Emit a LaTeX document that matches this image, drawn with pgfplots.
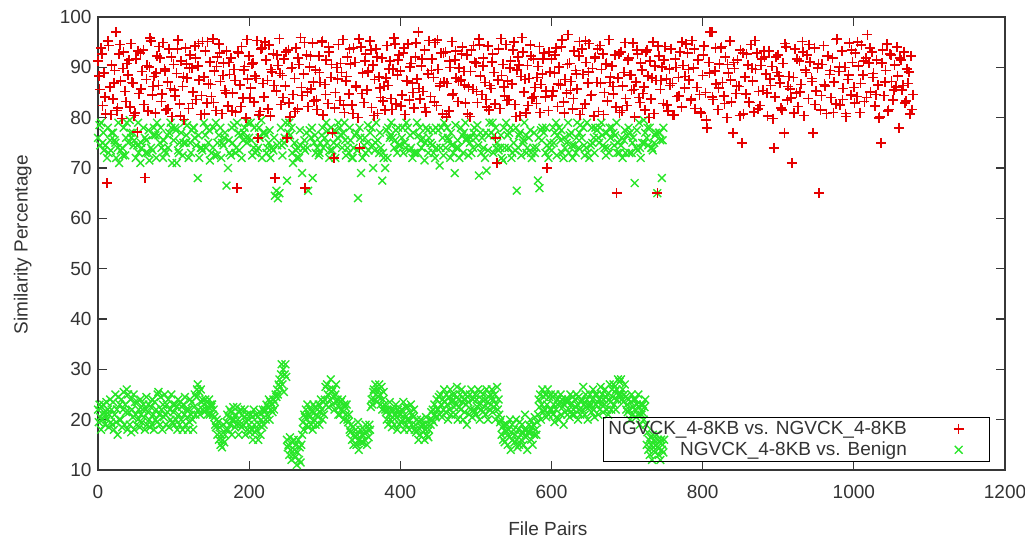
\documentclass[border=0pt]{standalone}
\usepackage{pgfplots}
\pgfplotsset{compat=1.18}
\usepackage{pgfplotstable}
\usepackage{fontspec}
\setmainfont{Liberation Sans}

\definecolor{gpred}{RGB}{230,0,0}
\definecolor{gpgreen}{RGB}{40,230,40}
\definecolor{gpframe}{RGB}{55,55,55}

% NGVCK_4-8KB vs. NGVCK_4-8KB: file pair 20r+2c is in row r, column c
\pgfplotstableread[header=false]{
91.2 85.6 93.8 82.4 88.9 80.7 67.0 94.3 86.1 90.5
83.7 89.4 97.0 81.9 92.6 87.3 79.8 93.1 85.2 90.8
88.5 82.1 94.7 86.9 80.4 91.6 77.2 84.8 92.9 89.2
93.4 68.1 87.6 81.3 90.1 95.2 84.5 88.2 80.9 92.3
86.4 91.9 83.2 94.9 89.7 81.5 87.1 93.6 85.8 80.2
90.6 84.3 88.8 95.4 82.7 91.3 86.2 79.6 93.9 87.9
81.8 92.4 89.9 85.1 94.2 83.6 90.3 87.5 80.6 95.1
88.1 93.2 82.9 86.7 91.1 84.2 95.6 89.3 81.4 92.1
94.6 87.2 80.8 90.9 85.4 93.3 82.3 88.6 91.8 84.9
89.6 81.1 66.0 92.8 86.5 94.1 83.9 90.2 79.9 87.7
92.2 85.9 90.7 83.1 88.3 95.3 76.0 81.2 93.7 86.8
84.1 91.4 87.4 94.4 80.3 89.1 92.7 68.0 85.3 90.4
95.7 82.6 88.4 91.7 86.3 76.0 93.5 80.1 89.8 84.6
87.8 93.9 81.7 90.6 95.9 84.4 88.7 66.0 92.5 82.2
90.1 85.7 94.8 83.3 89.5 81.6 92.3 87.0 95.0 80.5
86.6 91.5 82.8 93.0 88.0 77.0 72.0 85.0 90.0 94.5
83.4 89.0 95.5 81.0 87.3 92.0 84.7 90.7 82.5 93.8
91.0 86.0 80.0 74.0 94.0 88.9 83.0 92.6 85.5 89.4
95.2 82.0 90.5 87.6 93.6 80.8 88.1 84.0 91.9 86.2
81.5 94.3 86.4 91.2 83.8 89.7 95.8 82.7 88.5 92.4
89.3 84.5 92.9 80.6 87.4 94.6 83.5 90.8 86.9 81.9
92.0 87.7 97.0 83.7 90.3 85.2 93.4 81.1 88.8 95.3
84.2 91.7 88.0 94.9 82.4 89.6 86.3 92.8 80.7 87.1
93.1 86.8 81.3 90.0 95.1 84.8 91.4 87.9 83.2 89.9
87.5 94.0 89.2 82.9 92.5 86.1 80.2 93.5 85.6 91.1
90.9 83.0 95.6 88.3 84.6 91.8 87.0 82.1 94.2 86.4
85.8 92.7 89.0 76.0 71.0 93.7 81.8 88.4 90.6 84.3
94.5 87.3 83.6 91.3 86.7 95.0 82.6 89.5 92.1 80.4
88.2 93.0 85.1 80.9 90.4 87.8 94.4 83.9 91.6 86.0
82.8 90.2 94.1 86.6 88.7 92.9 84.1 70.0 81.4 89.1
91.7 85.3 88.9 93.9 82.2 90.1 86.5 95.4 83.1 87.6
84.9 96.5 90.8 87.2 81.7 93.3 89.4 85.7 92.2 80.6
93.6 88.6 82.7 91.0 86.9 94.7 84.4 89.8 80.3 92.0
87.0 81.2 94.3 89.6 92.6 85.0 90.7 83.3 95.5 88.1
90.3 84.7 92.4 65.0 87.9 81.0 93.1 86.3 89.0 83.8
82.4 91.8 88.5 85.4 94.8 80.1 87.1 92.7 84.0 90.9
89.5 86.1 81.5 93.4 88.3 91.2 83.7 95.0 80.8 87.4
65.0 92.3 85.6 90.1 82.8 94.1 87.7 81.3 89.7 93.7
86.8 80.5 91.6 84.2 88.0 93.0 82.1 90.4 85.9 94.6
92.8 87.5 83.4 95.3 89.9 81.8 86.0 91.5 84.6 80.9
88.4 94.2 85.0 78.0 91.0 97.0 97.0 83.6 89.3 86.7
81.6 90.7 93.8 87.0 84.3 92.1 80.0 88.9 95.2 83.1
77.0 89.8 84.8 91.4 86.2 93.5 75.0 80.7 88.1 92.6
90.5 83.0 94.5 87.3 81.1 89.6 92.9 85.2 82.4 91.7
85.4 92.0 88.7 80.3 93.3 86.4 90.2 74.0 84.1 89.0
92.5 86.9 81.9 90.8 77.0 94.0 83.5 88.2 85.7 71.0
88.0 93.6 84.9 82.2 91.3 86.6 95.1 80.4 89.5 92.4
83.8 91.1 87.8 77.0 93.9 85.3 89.9 65.0 81.5 90.6
94.3 86.3 80.8 92.2 88.6 84.0 91.9 87.1 82.7 95.6
89.2 82.5 93.2 85.8 90.0 80.2 87.6 94.8 84.5 91.0
86.0 92.8 84.2 90.3 81.0 94.4 88.5 83.2 91.8 96.5
90.9 85.1 93.0 88.8 82.3 91.5 86.5 80.1 75.0 93.4
84.4 89.4 94.6 81.6 92.7 87.2 83.5 90.5 86.1 88.3
78.0 91.4 85.5 93.1 82.9 89.7 86.8 80.7 92.3 84.6
}\ngvckeven

% NGVCK_4-8KB vs. NGVCK_4-8KB: file pair 20r+4c+1 is in row r, column c
\pgfplotstableread[header=false]{
88.3 92.7 84.1 95.2 80.6
86.9 81.4 94.5 89.8 83.2
91.5 87.0 80.9 93.3 85.7
82.6 90.4 95.8 86.2 88.9
94.1 84.7 89.3 81.8 92.0
85.5 93.6 80.3 88.1 90.7
89.9 82.8 91.8 94.7 84.4
80.7 95.1 86.6 83.0 90.2
92.9 88.4 84.9 91.0 81.3
87.4 93.0 82.2 89.5 95.5
83.9 90.9 87.8 80.5 93.8
95.0 81.7 89.6 86.4 92.5
88.8 84.0 93.1 82.9 90.0
81.2 91.9 86.0 94.9 85.1
92.3 87.1 83.5 89.0 95.3
84.6 94.0 90.6 81.9 87.7
90.8 82.5 88.2 93.7 80.8
86.3 95.6 84.8 91.2 89.1
93.5 80.4 92.1 85.9 83.3
87.9 89.7 81.6 94.6 91.4
82.3 93.9 87.3 90.1 85.0
94.8 85.8 91.6 82.0 88.6
89.4 83.1 95.4 86.8 92.8
80.1 91.3 84.5 93.2 87.2
92.6 86.5 80.7 89.2 94.3
85.2 94.4 90.3 83.6 81.5
91.1 82.7 87.5 95.7 86.1
83.4 89.9 93.4 80.2 90.5
95.9 87.6 82.4 92.2 84.2
88.0 81.0 91.7 85.3 93.0
84.3 92.4 86.7 94.0 80.9
90.6 85.4 83.8 88.7 95.1
81.8 95.2 89.1 84.6 91.9
93.7 86.9 80.6 90.8 87.0
86.2 82.1 92.7 81.4 94.9
91.4 88.5 85.6 93.5 83.0
84.8 93.1 80.0 87.9 90.3
94.2 87.4 91.5 82.5 86.4
80.5 90.0 84.3 95.0 88.2
89.6 83.7 93.6 86.0 81.2
92.4 79.5 88.9 84.1 93.9
85.9 94.1 82.8 90.6 87.5
91.0 86.3 80.4 92.9 84.7
83.1 89.8 95.3 81.7 90.4
93.3 84.9 87.7 79.8 92.1
88.3 81.5 94.7 86.2 83.9
80.9 91.6 85.1 93.0 89.0
94.5 87.2 82.6 90.7 84.4
86.6 92.3 89.4 81.0 95.5
90.1 83.6 80.8 88.5 93.4
82.9 95.0 86.8 91.3 84.0
93.8 88.0 84.6 79.9 90.9
87.1 81.3 92.5 85.5 94.0
91.9 86.4 83.3 89.1 81.6
}\ngvckodd

% NGVCK_4-8KB vs. Benign, upper group: file pair 10r+2c in row r, column c
\pgfplotstableread[header=false]{
76 78.5 79 75 73.5
74.5 72 73 75.5 77
77 75.5 72 74 71
73.5 74 78 72.5 79
75 79.5 76 77 75.5
72 74.5 73 71 74
78 76 75.5 73 71.5
74 73.5 78 76.5 79
76.5 75 74 72 73.5
73 76.5 77 79 71
75.5 78 71 73.5 75
77 72.5 79 75 78.5
72 75 77.5 78 76
74.5 68 72 74 73.5
79 76.5 78 75 71.5
73 74 72.5 79 75
76.5 78 75 74.5 77
66.5 70 73 72.5 75
78.5 73 79 77 76.5
72 75.5 78 76 79
76 79 72.5 74 73
73.5 74 76 79.5 77
77 76.5 74 75 72
74 73.5 64.5 65.5 64
65 78 72.5 75 79
67.5 77 76.5 78 71
75 73.5 74 72 74.5
69 74 73.5 77 65.5
77.5 76 68 75 73
74 72.5 75 76.5 74
76 79 77.5 72 78
73.5 75 72 74.5 79
78 76.5 77 79 72.5
74 73 75.5 72 74
76.5 77 64 78 69
72 74.5 73 75 73.5
77 78 70 73.5 79
75.5 73 74 67.5 72
70 77.5 78 76 79
76 74 77.5 73 74.5
74.5 76 73 75 79
78 73.5 74 72 73
73 79 76.5 78 74
76 71.5 78 77.5 76
75 74.5 73 72 74
77.5 70.5 78 76 79
74 78 75.5 72 74.5
73 69 74 75.5 72
78 76.5 77 79 76
72.5 75 73 74 78
76 78.5 68.5 77 76
74 72 69.5 73.5 79
77 79 76.5 78 75
73.5 74 72 71.5 74
79 76.5 77 78 73
75 73.5 65.5 74 77
72.5 75 79 76.5 74
76 77.5 72 74 73
74 67.5 66 77.5 78
77 73 74.5 72 75
73.5 78 77 79 76.5
78 75.5 73 72 74
75 79 76.5 77 72
74.5 73 79 74 78.5
76 78 72.5 74 73
72 74.5 75 76 78
77.5 76 78 79 74.5
74 72.5 74 73 76
78 77 76.5 79 75
73 74.5 72 75.5 73
76.5 78 77 73 76
67 74 73.5 79 72
75 79.5 77 76 74.5
78 74 73.5 75 77
65 77 75.5 68 78
}\benignhigh

% NGVCK_4-8KB vs. Benign, upper group: file pair 10r+4c+3 in row r, column c
\pgfplotstableread[header=false]{
74.5 77
78 73.5
75 79
72.5 76
77 74.5
79 75
73 77.5
76.5 72
78 75.5
74 78
77.5 73
75 76.5
73 78
76.5 74
74 77.5
78 72.5
72 76
75.5 78
74 73.5
77 75
75.5 78
78 72
73 77.5
76 74.5
74.5 76
79 73
72 77.5
75.5 74
78 76.5
73 78
75 73.5
77.5 76
74 75.5
78 72
73.5 76
76 78.5
74.5 75
77 73
72 76.5
75.5 78
78 74
76.5 77
73 75.5
75 73
77.5 78
74 72.5
76 77
78.5 74
73 75.5
76 77
74.5 73
77 76.5
73 74
76.5 78
74 72
78 76.5
75.5 73
73 77
76 75.5
78 74
75 72.5
77.5 76
73 74.5
76 77
74.5 79
78 73
75 76.5
77 78
74.5 73
76 77.5
73 75
77.5 74
75 78
74 76.5
77 75.5
}\benignhighodd

% NGVCK_4-8KB vs. Benign, lower group: file pair 10r+c in row r, column c
\pgfplotstableread[header=false]{
22 19.5 23 20.5 18 22.5 20 23 21.5 19
21 23.5 20 22 18.5 21 24 19.5 22 19
23.5 18 21 25 19.5 22 17 24.5 20 23
20 24 18.5 22 25.5 19 23 21.5 26 18
25 21.5 19 24 17.5 22 20.5 25 18 23.5
21 19 23.5 20 22 18.5 24 21 19.5 22
23 20.5 18 22 24.5 19 21.5 23 20 18.5
22.5 19 24 21 18 23.5 20 22 19.5 25
25.5 21 19 24.5 22 18 23 20.5 25 21
19 23 21.5 24 18.5 22 20 25 19.5 23
21.5 19 23 20 22.5 18 24 21 19 23.5
20 22.5 18 23 21 24.5 19 22 20.5 18
22 19.5 24 21 23.5 20 18 22.5 25 21
24.5 26 27 22 25.5 21 26 23.5 24 22
23 21.5 24 22 23.5 21 22.5 24 21 23
22.5 23 21 22 20.5 19 18.5 20 17 19.5
16 18.5 15 17 14.5 16 19 15.5 17 18
19.5 21 18 20.5 22 19 21.5 17 20 22.5
20 18.5 21 19 22.5 20 17 21.5 19 22
18.5 21 19 20.5 22 17 19.5 21 18 20
19 17.5 21 18 20.5 16 22 19 17.5 21
18 20.5 16 19 21.5 17 20 18.5 22 19
21.5 22 20 23 21 22.5 24 20 23.5 22
23 21.5 24 22 23.5 25 24.5 26 25 27
28 26.5 29 31 27 30 25.5 29 31 28.5
16 14.5 15 13 16.5 14 12 15.5 13 16
14 12.5 15 11 13.5 16 12 14.5 11.5 15
17 19.5 18 21 20.5 22 19 23 18.5 21
20.5 22 19 21.5 18 23 20 22.5 19 21
22 20.5 23 19 21.5 24 22 20 23.5 21
24 26.5 23 27 25 22.5 26 24 28 25.5
23 26 24.5 22 25 27 23.5 24 21 22.5
21 23.5 22 24 21.5 20 23 22.5 21 23
20 19.5 21 18 17.5 19 16 18.5 15 17
16.5 18 15 17 19.5 14 16 18 15.5 17
17 15.5 18 16 19 17.5 15 18 16.5 19
18 22.5 24 23 25.5 26 24 27 25 23.5
26 24.5 27 25 23 26.5 22 24 25.5 23
22 21.5 20 22 19 21 23.5 20 22 18.5
20.5 22 19 21 23 20.5 18 22 21.5 19
21 19.5 22 20 23.5 18 21 22.5 19 20
22.5 20 18 21.5 23 19 21 20.5 22 18
19 17.5 20 18 16 19.5 17 20 18.5 19
17.5 19 16 18 20.5 17 19 16.5 18 20
19 21.5 20 22 19.5 23 21 20.5 24 22
22 24.5 21 25 23 20.5 24 22 26 23.5
21.5 25 23 20 24.5 22 26 21 23.5 25
24 22.5 25 21 23 26.5 20 24 22.5 25
22 26 23.5 20 24 21.5 25 23 19 24.5
23.5 21 25 22 26 20.5 24 22 21.5 25
21 24 22.5 26 23 20 25.5 22 24 21.5
25 22.5 24 21 26 23.5 20 24.5 22 25
23 26 21.5 24 22.5 25 20 23 26.5 22
24 21 19.5 20 17 18.5 16 19 15.5 18
17.5 19 15 18 16.5 20 14 17.5 19 16
18 15.5 17 20 16 14.5 18 15 19.5 17
16 19 17.5 15 18 21 16.5 18 14 17.5
19 17.5 20 16 18.5 15 19 17 20.5 18
17 19.5 21 24 22.5 25 20 23 26 21.5
24.5 22 25 20.5 23 26 21 24.5 22 25
22 24.5 21 23 19.5 25 22 20.5 24 23
20 23.5 25 21 24 22.5 19 23 21.5 24
23.5 21 24 22 20.5 25 23 21 24.5 22
21 24 22.5 25 23 20 24.5 22 21 23.5
24 22 26.5 23 21 25 22.5 24 20 23
22.5 25 23 21.5 24 26 22 20.5 25 23
25 23.5 21 24 22 26.5 23 25 21.5 24
23 26 24.5 22 25 21 24 27 23.5 22
26 24.5 27 23 25.5 22 26 24 28 25
27.5 25 28 24 26 23.5 25 27 24.5 22
23 21.5 24 22 20 23.5 25 21 22.5 24
22 24 20.5 23 21 25 22.5 19 23 21
21.5 23 20 22.5 24 19 15 17.5 14 16
13 16.5 15 12 17 14.5 16 13.5 15 17
14.5 16 13 15.5 12 16 14 15 13.5 16
}\benignlow

\pgfplotsset{
  redpts/.style={only marks, mark=+, color=gpred, mark size=5pt, line width=1.6pt},
  greenpts/.style={only marks, mark=x, color=gpgreen, mark size=5.5pt, line width=1.4pt},
}

\begin{document}
\begin{tikzpicture}
\path[use as bounding box] (-98pt,-71pt) rectangle (927pt,470pt);
\begin{axis}[
  at={(0pt,0pt)}, anchor=south west,
  scale only axis, width=907pt, height=453pt,
  xmin=0, xmax=1200, ymin=10, ymax=100,
  xtick={0,200,...,1200}, ytick={10,20,...,100},
  minor tick num=0,
  tick align=inside, major tick length=9pt,
  axis line style={draw=gpframe, line width=1.4pt},
  tick style={draw=gpframe, line width=1.2pt},
  tick label style={font=\fontsize{19}{22}\selectfont, text=black!80},
  xticklabel style={yshift=-12pt},
  yticklabel style={xshift=-3pt},
  label style={font=\fontsize{19}{22}\selectfont, text=black!80},
  /pgf/number format/assume math mode=true,
  /pgf/number format/set thousands separator={},
  xlabel={File Pairs},
  ylabel={Similarity Percentage},
  xlabel style={at={(axis description cs:0.496,-0.13)}, anchor=center},
  ylabel style={at={(axis description cs:-0.083,0.497)}, anchor=center},
  legend style={at={(rel axis cs:0.9835,0.0177)}, anchor=south east,
    draw=black, fill=none, line width=1.1pt,
    font=\fontsize{19}{22}\selectfont, text=black!80,
    inner xsep=3pt, inner ysep=2pt, row sep=2pt},
  legend plot pos=right,
  legend cell align=right,
  legend image code/.code={%
    \path (0pt,0pt) (76pt,0pt);
    \draw[mark repeat=2,mark phase=2,#1] plot coordinates {(0pt,0pt) (49pt,0pt) (76pt,0pt)};},
]
\addlegendimage{redpts}
\addlegendentry{NGVCK\_4-8KB vs. NGVCK\_4-8KB}
\addlegendimage{greenpts}
\addlegendentry{NGVCK\_4-8KB vs. Benign}

\pgfplotsinvokeforeach{0,...,4}{
  \addplot[greenpts, forget plot] table[x expr=\coordindex*10+2*#1, y index=#1] {\benignhigh};
}
\pgfplotsinvokeforeach{0,1}{
  \addplot[greenpts, forget plot] table[x expr=\coordindex*10+4*#1+3, y index=#1] {\benignhighodd};
}
\pgfplotsinvokeforeach{0,...,9}{
  \addplot[greenpts, forget plot] table[x expr=\coordindex*10+#1, y index=#1] {\benignlow};
}
\pgfplotsinvokeforeach{0,...,9}{
  \addplot[redpts, forget plot] table[x expr=\coordindex*20+2*#1, y index=#1] {\ngvckeven};
}
\pgfplotsinvokeforeach{0,...,4}{
  \addplot[redpts, forget plot] table[x expr=\coordindex*20+4*#1+1, y index=#1] {\ngvckodd};
}
\end{axis}
\end{tikzpicture}
\end{document}
